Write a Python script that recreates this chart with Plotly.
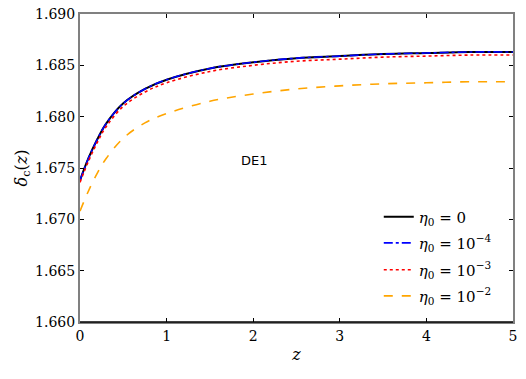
import plotly.graph_objects as go

z = [0, 0.1, 0.2, 0.3, 0.5, 0.75, 1, 1.5, 2, 2.5, 3, 3.5, 4, 4.5, 5]

eta_0 = [1.6738, 1.6760, 1.6778, 1.6793, 1.6813, 1.6827, 1.6836, 1.6847, 1.6853,
         1.6857, 1.6859, 1.6861, 1.6862, 1.6863, 1.6863]
eta_1e4 = [1.6738, 1.6760, 1.6778, 1.6793, 1.6813, 1.6827, 1.6836, 1.6847, 1.6853,
           1.6857, 1.6859, 1.6861, 1.6862, 1.6863, 1.6863]
eta_1e3 = [1.6736, 1.6757, 1.6775, 1.6790, 1.6810, 1.6824, 1.6833, 1.6844, 1.6850,
           1.6854, 1.6856, 1.6858, 1.6859, 1.6860, 1.6860]
eta_1e2 = [1.6708, 1.6728, 1.6745, 1.6759, 1.6779, 1.6794, 1.6803, 1.6815, 1.6822,
           1.6827, 1.6830, 1.6832, 1.6833, 1.6834, 1.6834]

names = ["<i>η</i><sub>0</sub> = 0",
         "<i>η</i><sub>0</sub> = 10<sup>−4</sup>",
         "<i>η</i><sub>0</sub> = 10<sup>−3</sup>",
         "<i>η</i><sub>0</sub> = 10<sup>−2</sup>"]

serif = "DejaVu Serif"

fig = go.Figure()

# Create and style traces, each one gets its own legend box so the rows can be spaced like the original
fig.add_trace(go.Scatter(x=z, y=eta_0, name=names[0], mode='lines', line_shape='spline', legend='legend',
                         line=dict(color='black', width=2, dash='solid')))
fig.add_trace(go.Scatter(x=z, y=eta_1e4, name=names[1], mode='lines', line_shape='spline', legend='legend2',
                         line=dict(color='blue', width=1.6, dash='dashdot')))
fig.add_trace(go.Scatter(x=z, y=eta_1e3, name=names[2], mode='lines', line_shape='spline', legend='legend3',
                         line=dict(color='red', width=1.6, dash='dot')))
fig.add_trace(go.Scatter(x=z, y=eta_1e2, name=names[3], mode='lines', line_shape='spline', legend='legend4',
                         line=dict(color='orange', width=1.6, dash='dash')))

fig.add_annotation(x=2.02, y=1.6757, text="DE1", showarrow=False,
                   font=dict(family="DejaVu Sans", size=13, color='black'))

# bottom spine is black, the others grey
fig.add_shape(type='line', xref='paper', yref='paper', x0=0, x1=1, y0=0, y1=0,
              line=dict(color='black', width=1.5))

leg = dict(x=0.69, xanchor='left', yanchor='middle', bgcolor='rgba(0,0,0,0)',
           font=dict(family=serif, size=15), itemwidth=30)

fig.update_layout(
    width=526, height=379,
    margin=dict(l=80, r=13, t=14, b=57, autoexpand=False),
    plot_bgcolor='white', paper_bgcolor='white',
    font=dict(family=serif, size=14, color='black'),
    showlegend=True,
    legend=dict(leg, y=0.341),
    legend2=dict(leg, y=0.256),
    legend3=dict(leg, y=0.169),
    legend4=dict(leg, y=0.084),
    xaxis=dict(title=dict(text="<i>z</i>", standoff=6, font=dict(family=serif, size=16)),
               range=[0, 5], tickvals=[0, 1, 2, 3, 4, 5], tickfont=dict(family=serif, size=14),
               ticks='inside', ticklen=4, tickcolor='black', showgrid=False, zeroline=False,
               showline=True, linecolor='grey', linewidth=2, mirror='ticks',
               ticklabeloverflow='allow'),
    yaxis=dict(title=dict(text="<i>δ</i><sub>c</sub>(<i>z</i>)", standoff=4, font=dict(family=serif, size=16)),
               range=[1.660, 1.690], tickfont=dict(family=serif, size=14),
               tickvals=[1.660, 1.665, 1.670, 1.675, 1.680, 1.685, 1.690], tickformat='.3f',
               ticks='inside', ticklen=4, tickcolor='black', showgrid=False, zeroline=False,
               showline=True, linecolor='grey', linewidth=2, mirror='ticks',
               ticklabeloverflow='allow'),
)

# drop the default 8px page margin so the figure fills the window
fig.write_html("out.html", config={'displayModeBar': False},
               post_script="document.body.style.margin='0';")
